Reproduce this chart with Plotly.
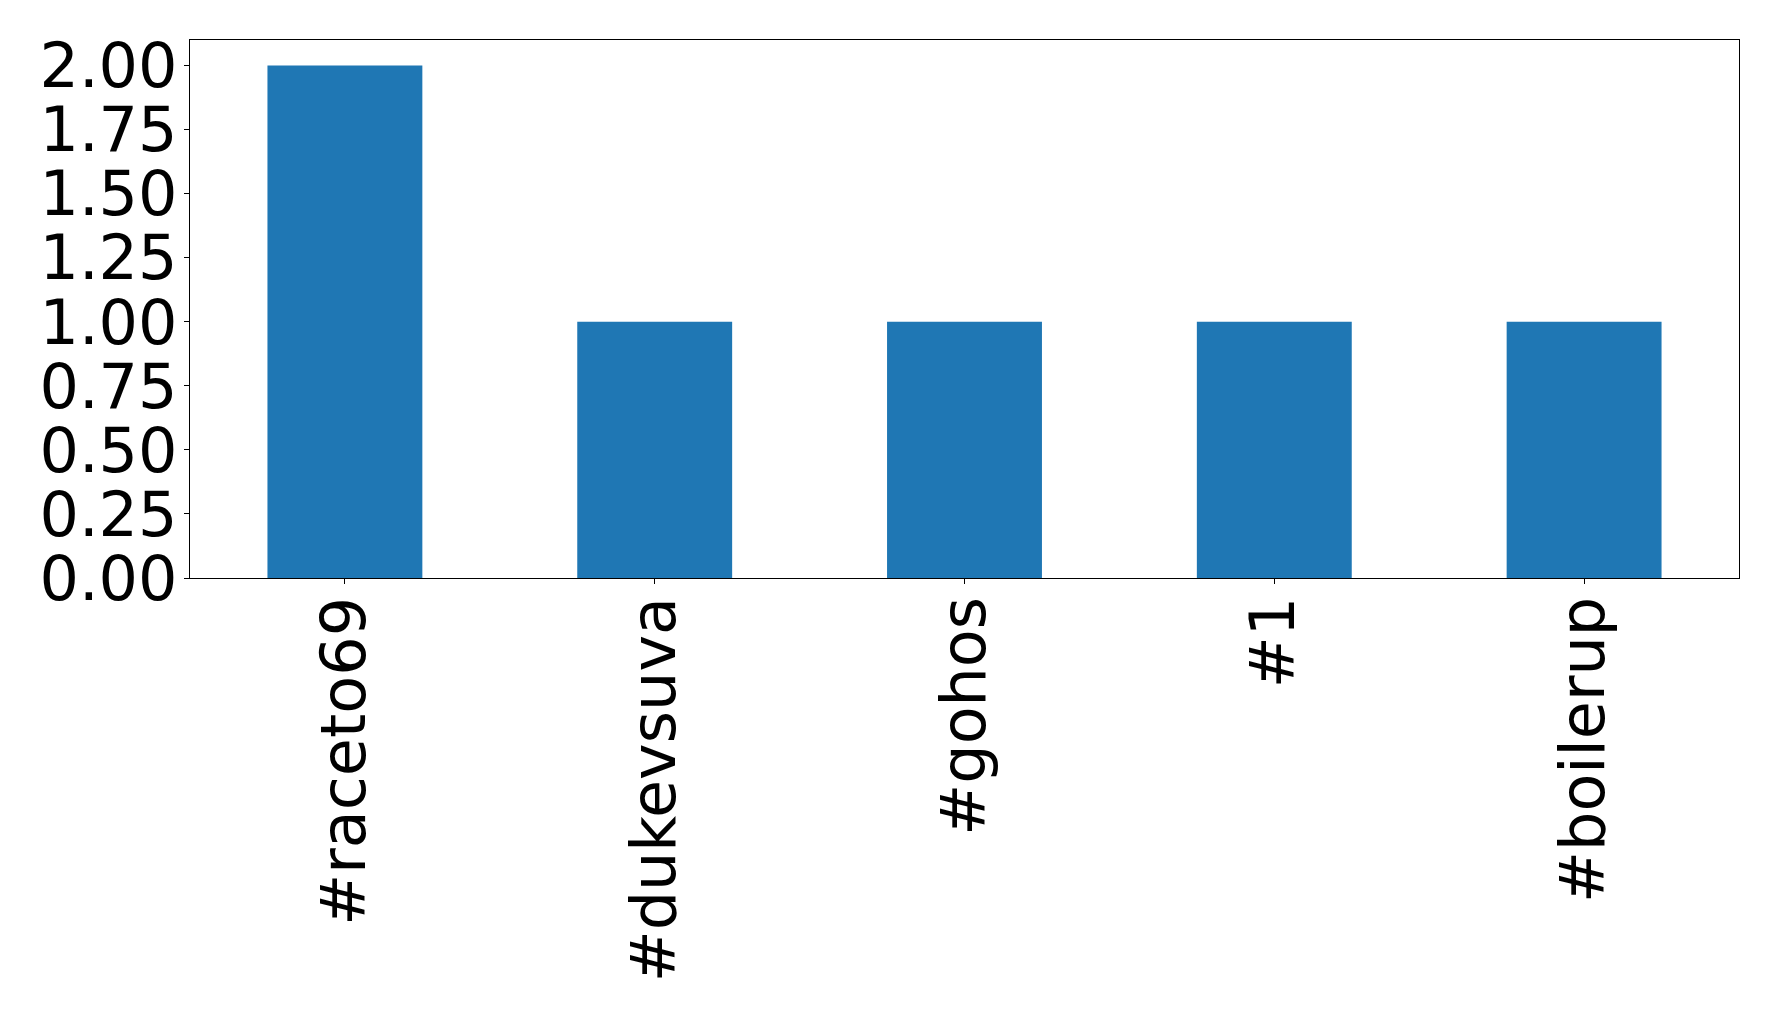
import plotly.graph_objects as go

categories = ["#raceto69", "#dukevsuva", "#gohos", "#1", "#boilerup"]
counts = [2, 1, 1, 1, 1]
y_ticks = [0, 0.25, 0.5, 0.75, 1.0, 1.25, 1.5, 1.75, 2.0]
y_tick_labels = ["0.00", "0.25", "0.50", "0.75", "1.00", "1.25", "1.50", "1.75", "2.00"]

fig = go.Figure(go.Bar(x=categories, y=counts, marker=dict(color="#1f77b4", line=dict(width=0)), width=0.5))

fig.update_layout(
    width=1778, height=1016,
    margin=dict(l=182, r=47, t=32, b=446),
    plot_bgcolor="white", paper_bgcolor="white",
    font=dict(family="DejaVu Sans", size=62, color="black"),
    showlegend=False,
)
fig.update_xaxes(
    range=[-0.5, 4.5], tickangle=-90, ticks="outside", ticklen=5, tickwidth=1.2, tickcolor="black",
    showline=True, linecolor="black", linewidth=1.2, mirror=True, showgrid=False,
    tickfont=dict(size=62, family="DejaVu Sans"), ticklabelstandoff=-12,
)
fig.update_yaxes(
    range=[0, 2.1], tickvals=y_ticks, ticktext=y_tick_labels, ticks="outside", ticklen=5, tickwidth=1.2,
    tickcolor="black", showline=True, linecolor="black", linewidth=1.2, mirror=True, showgrid=False,
    zeroline=False, tickfont=dict(size=62, family="DejaVu Sans"), ticklabelstandoff=-6,
)
fig.write_html("out.html")
